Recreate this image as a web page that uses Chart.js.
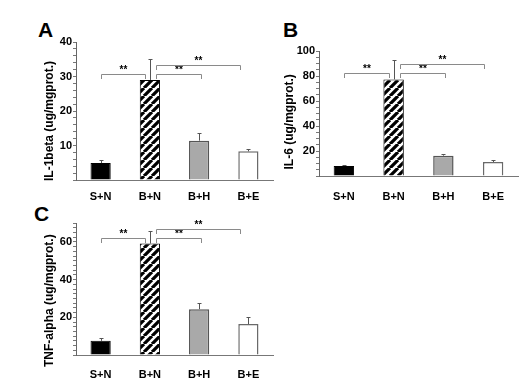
<!DOCTYPE html>
<html><head><meta charset="utf-8">
<script src="https://cdn.jsdelivr.net/npm/chart.js@4.4.1/dist/chart.umd.min.js"></script>
<style>
html,body{margin:0;padding:0;background:#fff;width:524px;height:382px;overflow:hidden;}
.wrap{position:absolute;}
.lbl{position:absolute;font:bold 21px 'Liberation Sans',Arial,sans-serif;line-height:21px;color:#000;}
</style></head><body>
<div class="lbl" style="left:38px;top:19px">A</div>
<div class="lbl" style="left:283px;top:19px">B</div>
<div class="lbl" style="left:34px;top:203px">C</div>
<div class="wrap" style="left:0;top:0"><canvas id="cA" width="280" height="200"></canvas></div>
<div class="wrap" style="left:262px;top:0"><canvas id="cB" width="262" height="200"></canvas></div>
<div class="wrap" style="left:0;top:200px"><canvas id="cC" width="280" height="182"></canvas></div>
<script>
// ---- data ----
const categories = ['S+N', 'B+N', 'B+H', 'B+E'];
const il1betaMeans = [4.9, 29.0, 11.4, 8.3];
const il1betaErrors = [1.0, 6.1, 2.3, 0.7];
const il6Means = [8.0, 77.3, 16.3, 11.2];
const il6Errors = [1.0, 15.5, 1.7, 1.6];
const tnfMeans = [7.5, 59.1, 24.3, 16.4];
const tnfErrors = [1.3, 6.9, 3.2, 3.6];
const comparisons = [[0, 1], [1, 2], [1, 3]];
const significance = ['**', '**', '**'];
const yTicksA = [10, 20, 30, 40];
const yTicksB = [20, 40, 60, 80, 100];
const yTicksC = [20, 40, 60];
const yTitleA = 'IL-1beta (ug/mgprot.)';
const yTitleB = 'IL-6 (ug/mgprot.)';
const yTitleC = 'TNF-alpha (ug/mgprot.)';

// ---- styles ----
const FONT = "'Liberation Sans', Arial, Helvetica, sans-serif";
const bracketNudge = [[0, -0.1], [0.12, 0.03], [0.12, -0.18]];

function makeHatch() {
  const s = 8;
  const c = document.createElement('canvas');
  c.width = s; c.height = s;
  const g = c.getContext('2d');
  g.fillStyle = '#fff'; g.fillRect(0, 0, s, s);
  g.strokeStyle = '#000'; g.lineWidth = 3.2;
  g.beginPath();
  for (const o of [-s, 0, s]) { g.moveTo(o, s); g.lineTo(o + s, 0); }
  g.stroke();
  return g.createPattern(c, 'repeat');
}
const hatch = makeHatch();

const annotPlugin = {
  id: 'annot',
  afterDatasetsDraw(chart, args, opts) {
    const {ctx} = chart;
    const x = chart.scales.x, y = chart.scales.y;
    const meta = chart.getDatasetMeta(0);
    const vals = chart.data.datasets[0].data;
    ctx.save();
    ctx.lineWidth = 1;
    ctx.strokeStyle = '#555';
    meta.data.forEach((bar, i) => {
      const cx = Math.round(bar.x) + 0.5;
      const yTop = y.getPixelForValue(vals[i]);
      const yErr = Math.round(y.getPixelForValue(vals[i] + opts.errors[i])) + 0.5;
      ctx.beginPath();
      ctx.moveTo(cx, yTop); ctx.lineTo(cx, yErr);
      ctx.moveTo(cx - 2, yErr); ctx.lineTo(cx + 2, yErr);
      ctx.stroke();
    });
    // significance brackets
    const anchor = Math.round(y.getPixelForValue(Math.max(...vals)));
    ctx.strokeStyle = '#8a8a8a';
    ctx.fillStyle = '#000';
    ctx.font = 'bold 10px ' + FONT;
    ctx.textAlign = 'center';
    ctx.textBaseline = 'alphabetic';
    comparisons.forEach((pair, k) => {
      const span = Math.abs(pair[1] - pair[0]);
      const lineY = anchor - (span === 1 ? 6 : 15) + 0.5;
      const legY = anchor - (span === 1 ? 1 : 10);
      const x1 = Math.round(x.getPixelForValue(pair[0] + bracketNudge[k][0])) + 0.5;
      const x2 = Math.round(x.getPixelForValue(pair[1] + bracketNudge[k][1])) + 0.5;
      ctx.beginPath();
      ctx.moveTo(x1, legY); ctx.lineTo(x1, lineY); ctx.lineTo(x2, lineY); ctx.lineTo(x2, legY);
      ctx.stroke();
      ctx.fillText(significance[k], (x1 + x2) / 2, lineY - 1.5);
    });
    ctx.restore();
  }
};

function makeChart(id, means, errors, cfg) {
  new Chart(document.getElementById(id), {
    type: 'bar',
    data: {
      labels: categories,
      datasets: [{
        data: means,
        backgroundColor: ['#000000', hatch, '#a9a9a9', '#ffffff'],
        borderColor: ['#000000', '#000000', '#555555', '#6a6a6a'],
        borderWidth: [1, 1, 1.5, 1.5],
        barPercentage: 0.41,
        categoryPercentage: 1.0
      }]
    },
    options: {
      responsive: false,
      animation: false,
      layout: {padding: {left: cfg.padLeft, top: cfg.padTop, right: cfg.padRight, bottom: 0}},
      plugins: {legend: {display: false}, tooltip: {enabled: false}, annot: {errors: errors}},
      scales: {
        x: {
          type: 'category',
          offset: true,
          grid: {display: false},
          border: {display: true, color: '#777', width: 1},
          ticks: {color: '#000', font: {family: FONT, size: 11, weight: 'bold'}, padding: cfg.xPad, maxRotation: 0},
          afterFit: s => { s.height = cfg.xHeight; }
        },
        y: {
          min: 0, max: cfg.max,
          grid: {display: true, drawOnChartArea: false, drawTicks: true, tickLength: 3, color: '#777', lineWidth: 1},
          border: {display: true, color: '#666', width: 1},
          ticks: {
            stepSize: cfg.step, autoSkip: false, padding: 1, color: '#000',
            font: {family: FONT, size: 11, weight: 'bold'},
            callback: v => cfg.labels.includes(v) ? String(v) : ''
          },
          title: {display: true, text: cfg.title + ' '.repeat(cfg.titleShift), color: '#000',
                  font: {family: FONT, size: 12, weight: 'bold'}, padding: {top: 4, bottom: 0}},
          afterFit: s => { s.width = cfg.yWidth; }
        }
      }
    },
    plugins: [annotPlugin]
  });
}

makeChart('cA', il1betaMeans, il1betaErrors,
  {padLeft: 38, padTop: 42, padRight: 7, yWidth: 38, xHeight: 20, xPad: 2, max: 40, step: 2, labels: yTicksA, title: yTitleA, titleShift: 6});
makeChart('cB', il6Means, il6Errors,
  {padLeft: 16, padTop: 51, padRight: 6, yWidth: 41, xHeight: 24, xPad: 6, max: 100, step: 5, labels: yTicksB, title: yTitleB, titleShift: 5});
makeChart('cC', tnfMeans, tnfErrors,
  {padLeft: 38, padTop: 23, padRight: 7, yWidth: 38, xHeight: 27, xPad: 5, max: 70, step: 2.5, labels: yTicksC, title: yTitleC, titleShift: 7});
</script>
</body></html>
